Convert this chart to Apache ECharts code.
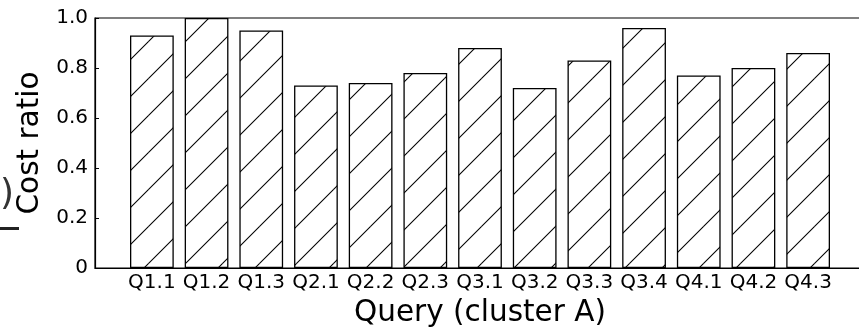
<!DOCTYPE html>
<html>
<head>
<meta charset="utf-8">
<script src="https://cdn.jsdelivr.net/npm/echarts@6/dist/echarts.min.js"></script>
<style>
  html, body { margin: 0; padding: 0; background: #fff; }
  #chart { width: 859px; height: 330px; }
</style>
</head>
<body>
<div id="chart"></div>
<script>
// Query names and their cost ratios (cluster A)
const queries = ['Q1.1', 'Q1.2', 'Q1.3', 'Q2.1', 'Q2.2', 'Q2.3', 'Q3.1', 'Q3.2', 'Q3.3', 'Q3.4', 'Q4.1', 'Q4.2', 'Q4.3'];
const costRatio = [0.93, 1.00, 0.95, 0.73, 0.74, 0.78, 0.88, 0.72, 0.83, 0.96, 0.77, 0.80, 0.86];
const yTicks = [0, 0.2, 0.4, 0.6, 0.8, 1.0];

const FONT = 'DejaVu Sans';

// Diagonal "/" hatch tile, repeated across every bar
function hatchTile(period) {
  const c = document.createElement('canvas');
  c.width = period; c.height = period;
  const ctx = c.getContext('2d');
  ctx.fillStyle = '#fff';
  ctx.fillRect(0, 0, period, period);
  ctx.strokeStyle = '#000';
  ctx.lineWidth = 1.1;
  const phase = 5;
  for (let k = -1; k <= 2; k++) {
    const s = phase + k * period;
    ctx.beginPath();
    ctx.moveTo(-2, s + 2);
    ctx.lineTo(s + 2, -2);
    ctx.stroke();
  }
  return c;
}

const xMin = -1.04, xMax = 13.04;
const gridLeft = 95, gridTop = 18, gridWidth = 770, gridHeight = 250;
const barPx = 0.8 * gridWidth / (xMax - xMin);

const chart = echarts.init(document.getElementById('chart'), null, { renderer: 'canvas' });
chart.setOption({
  animation: false,
  backgroundColor: '#fff',
  textStyle: { fontFamily: FONT },
  grid: {
    left: gridLeft, top: gridTop, width: gridWidth, height: gridHeight,
    outerBoundsMode: 'none', containLabel: false,
    show: true, borderColor: '#000', borderWidth: 1.2, backgroundColor: 'transparent'
  },
  xAxis: {
    type: 'value', min: xMin, max: xMax,
    axisLine: { show: true, onZero: false, lineStyle: { color: '#000', width: 1.2 } },
    axisTick: { show: false },
    splitLine: { show: false },
    axisLabel: {
      customValues: queries.map((_, i) => i),
      formatter: v => queries[Math.round(v)],
      fontSize: 20, color: '#000', fontFamily: FONT, margin: 5
    },
    name: 'Query (cluster A)', nameLocation: 'middle', nameGap: 27,
    nameTextStyle: { fontSize: 29.5, color: '#000', fontFamily: FONT }
  },
  yAxis: {
    type: 'value', min: 0, max: 1, interval: 0.2,
    axisLine: { show: true, onZero: false, lineStyle: { color: '#000', width: 1.2 } },
    axisTick: { show: true, inside: true, length: 4, lineStyle: { color: '#000', width: 1 } },
    splitLine: { show: false },
    axisLabel: {
      customValues: yTicks,
      formatter: v => (v === 0 ? '0' : v.toFixed(1)),
      fontSize: 20, color: '#000', fontFamily: FONT, margin: 7
    },
    name: 'Cost ratio', nameLocation: 'middle', nameGap: 48,
    nameTextStyle: { fontSize: 29.5, color: '#000', fontFamily: FONT }
  },
  series: [{
    type: 'bar',
    data: costRatio.map((v, i) => [i, v]),
    barWidth: barPx,
    itemStyle: {
      color: { image: hatchTile(37), repeat: 'repeat' },
      borderColor: '#000', borderWidth: 1.3
    }
  }],
  graphic: [
    { type: 'text', left: 0, top: 177, style: { text: ')', fontSize: 36, fontFamily: FONT, fill: '#333' } },
    { type: 'rect', shape: { x: 0, y: 227, width: 19, height: 3 }, style: { fill: '#222' } }
  ]
});
</script>
</body>
</html>
